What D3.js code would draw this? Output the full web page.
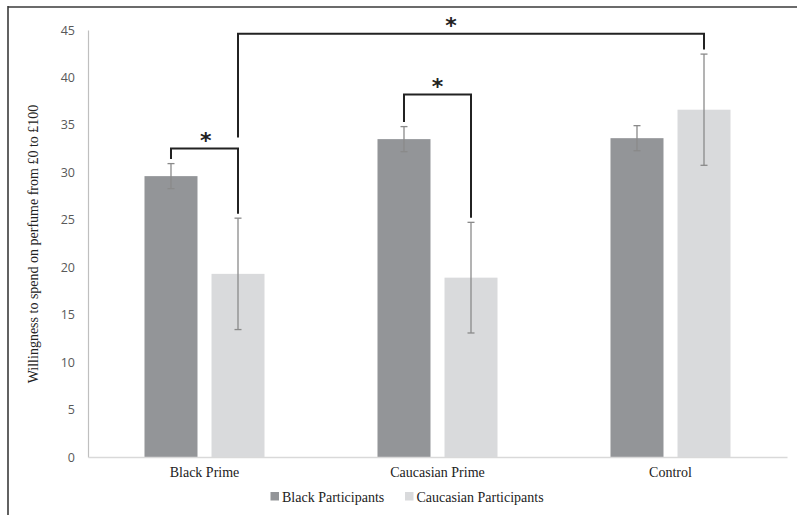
<!DOCTYPE html>
<html>
<head>
<meta charset="utf-8">
<script src="https://cdnjs.cloudflare.com/ajax/libs/d3/7.8.5/d3.min.js"></script>
<style>
  html, body { margin: 0; padding: 0; background: #fff; }
  svg { display: block; }
</style>
</head>
<body>
<svg id="chart" width="797" height="515"></svg>
<script>
// ---- data ----
const categories = ["Black Prime", "Caucasian Prime", "Control"];
const seriesNames = ["Black Participants", "Caucasian Participants"];
const blackMeans = [29.6, 33.5, 33.6];
const blackErrors = [1.32, 1.32, 1.32];
const caucasianMeans = [19.3, 18.9, 36.6];
const caucasianErrors = [5.87, 5.83, 5.86];
const yTicks = [0, 5, 10, 15, 20, 25, 30, 35, 40, 45];
const yTitle = "Willingness to spend on perfume from £0 to £100";
// significance brackets: [category, series] pairs
const sigPairs = [
  { from: [0, 0], to: [0, 1], level: 32.5, star: 0.52 },
  { from: [1, 0], to: [1, 1], level: 38.2, star: 0.5 },
  { from: [0, 1], to: [2, 1], level: 44.6, star: 0.457 }
];

const colors = ["#939598", "#d9dadc"];

const svg = d3.select("#chart");
const W = 797, H = 515;

// frame
svg.append("line").attr("x1", 8).attr("x2", 8).attr("y1", 6).attr("y2", H)
  .attr("stroke", "#3a3a3a").attr("stroke-width", 1.6);
svg.append("line").attr("x1", 8).attr("x2", W).attr("y1", 7).attr("y2", 7)
  .attr("stroke", "#3a3a3a").attr("stroke-width", 1.6);

const mLeft = 88, mRight = 787, mTop = 30, mBottom = 457;

const y = d3.scaleLinear().domain([0, 45]).range([mBottom, mTop]);
const x0 = d3.scaleBand().domain(categories).range([mLeft, mRight]).padding(0);
const x1 = d3.scaleBand().domain(seriesNames).range([0, x0.bandwidth()])
  .paddingInner(0.209).paddingOuter(0.843);

const data = categories.map((c, i) => ({
  cat: c,
  vals: [
    { s: seriesNames[0], v: blackMeans[i], e: blackErrors[i], col: colors[0] },
    { s: seriesNames[1], v: caucasianMeans[i], e: caucasianErrors[i], col: colors[1] }
  ]
}));

// y axis
const yAxis = d3.axisLeft(y).tickValues(yTicks).tickSize(0).tickPadding(13);
const gy = svg.append("g").attr("transform", `translate(${mLeft},0)`).call(yAxis);
gy.select(".domain").attr("stroke", "#bfbfbf").attr("stroke-width", 1.2);
gy.selectAll("text").attr("font-family", "'Open Sans', sans-serif")
  .attr("font-size", 12.5).attr("fill", "#595959");

// bars
const groups = svg.append("g").selectAll("g").data(data).join("g")
  .attr("transform", d => `translate(${x0(d.cat)},0)`);
groups.selectAll("rect").data(d => d.vals).join("rect")
  .attr("x", d => x1(d.s))
  .attr("width", x1.bandwidth())
  .attr("y", d => y(d.v))
  .attr("height", d => y(0) - y(d.v))
  .attr("fill", d => d.col);

// x axis
const xAxis = d3.axisBottom(x0).tickSize(0).tickPadding(10);
const gx = svg.append("g").attr("transform", `translate(0,${mBottom})`).call(xAxis);
gx.select(".domain").attr("stroke", "#d9d9d9").attr("stroke-width", 1.5);
gx.selectAll("text").attr("font-family", "'Liberation Serif', 'Times New Roman', serif")
  .attr("font-size", 14).attr("fill", "#222");

// error bars
const eb = groups.selectAll("g.err").data(d => d.vals).join("g").attr("class", "err");
eb.append("line")
  .attr("x1", d => x1(d.s) + x1.bandwidth() / 2)
  .attr("x2", d => x1(d.s) + x1.bandwidth() / 2)
  .attr("y1", d => y(d.v + d.e)).attr("y2", d => y(d.v - d.e))
  .attr("stroke", "#8a8a8a").attr("stroke-width", 1.3);
[1, -1].forEach(sgn => {
  eb.append("line")
    .attr("x1", d => x1(d.s) + x1.bandwidth() / 2 - 3.5)
    .attr("x2", d => x1(d.s) + x1.bandwidth() / 2 + 3.5)
    .attr("y1", d => y(d.v + sgn * d.e)).attr("y2", d => y(d.v + sgn * d.e))
    .attr("stroke", "#8a8a8a").attr("stroke-width", 1.3);
});

// significance brackets
const cx = (ci, si) => x0(categories[ci]) + x1(seriesNames[si]) + x1.bandwidth() / 2;
const topOf = (ci, si) => {
  const v = si === 0 ? blackMeans[ci] + blackErrors[ci] : caucasianMeans[ci] + caucasianErrors[ci];
  return y(v) - 4.5;
};
const sg = svg.append("g");
sigPairs.forEach(p => {
  const xa = cx(p.from[0], p.from[1]), xb = cx(p.to[0], p.to[1]);
  const ly = y(p.level);
  let ya = topOf(p.from[0], p.from[1]);
  const yb = topOf(p.to[0], p.to[1]);
  // big bracket's left leg stops above the small bracket line
  if (p.from[0] !== p.to[0]) ya = y(sigPairs[0].level) - 11;
  sg.append("path")
    .attr("d", `M${xa},${ya}V${ly}H${xb}V${yb}`)
    .attr("fill", "none").attr("stroke", "#222").attr("stroke-width", 2);
  sg.append("text")
    .attr("x", xa + (xb - xa) * p.star).attr("y", ly - 1)
    .attr("text-anchor", "middle")
    .attr("font-family", "'DejaVu Sans', sans-serif")
    .attr("font-weight", "bold").attr("font-size", 22).attr("fill", "#222")
    .text("*");
});

// y title
svg.append("text")
  .attr("transform", `translate(38,244) rotate(-90)`)
  .attr("text-anchor", "middle")
  .attr("font-family", "'Liberation Serif', 'Times New Roman', serif")
  .attr("font-size", 14).attr("fill", "#222")
  .text(yTitle);

// legend
const legendX = [270.5, 405];
const lg = svg.append("g");
seriesNames.forEach((s, i) => {
  lg.append("rect").attr("x", legendX[i]).attr("y", 492).attr("width", 8.5).attr("height", 8.5)
    .attr("fill", colors[i]);
  lg.append("text").attr("x", legendX[i] + 11.5).attr("y", 501.5)
    .attr("font-family", "'Liberation Serif', 'Times New Roman', serif")
    .attr("font-size", 14).attr("fill", "#222").text(s);
});
</script>
</body>
</html>
